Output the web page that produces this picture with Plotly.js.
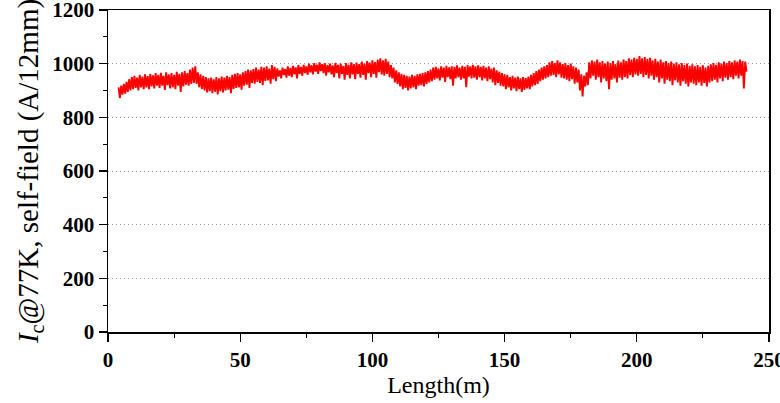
<!DOCTYPE html>
<html>
<head>
<meta charset="utf-8">
<script src="https://cdn.plot.ly/plotly-3.0.1.min.js"></script>
<style>html,body{margin:0;padding:0;background:#fff;}#chart{width:780px;height:403px;}</style>
</head>
<body>
<div id="chart"></div>
<script>
// Sampling of the tape length (m): first point and spacing
const lengthStart = 4;
const lengthStep = 0.5;

// Critical current Ic @77K, self-field (A/12mm)
const icValues = [
  912, 872, 918, 885, 925, 888, 932, 895, 942, 900,
  950, 905, 955, 910, 948, 900, 958, 912, 952, 905,
  960, 912, 954, 905, 962, 915, 956, 908, 965, 918,
  958, 910, 966, 918, 955, 902, 968, 920, 960, 908,
  965, 912, 958, 905, 970, 918, 962, 895, 968, 915,
  972, 922, 965, 918, 978, 925, 985, 928, 990, 925,
  968, 912, 960, 905, 955, 900, 950, 893, 945, 898,
  948, 890, 942, 896, 950, 885, 945, 898, 952, 893,
  948, 900, 955, 903, 950, 890, 958, 906, 962, 910,
  965, 912, 960, 903, 968, 918, 972, 922, 978, 910,
  975, 928, 980, 925, 985, 932, 978, 928, 988, 920,
  985, 936, 990, 938, 982, 925, 995, 942, 988, 935,
  982, 952, 975, 945, 985, 958, 980, 948, 990, 955,
  984, 950, 992, 960, 986, 945, 995, 962, 988, 955,
  996, 965, 990, 958, 1000, 968, 994, 960, 1002, 970,
  996, 962, 1005, 972, 998, 965, 1002, 955, 995, 968,
  1000, 960, 994, 950, 1003, 965, 996, 945, 1000, 962,
  992, 940, 1002, 958, 996, 945, 1005, 960, 998, 942,
  1004, 962, 998, 948, 1008, 958, 1000, 940, 1010, 965,
  1004, 950, 1012, 962, 1006, 948, 1015, 968, 1020, 960,
  1012, 955, 1018, 962, 1008, 950, 995, 945, 985, 930,
  975, 925, 968, 915, 962, 905, 958, 910, 955, 900,
  952, 908, 958, 912, 955, 905, 960, 918, 962, 920,
  965, 915, 968, 925, 972, 930, 978, 935, 985, 940,
  988, 945, 982, 938, 990, 948, 985, 932, 992, 950,
  986, 942, 990, 918, 988, 945, 994, 950, 985, 940,
  992, 945, 988, 912, 995, 952, 990, 945, 996, 948,
  990, 940, 994, 950, 988, 938, 992, 945, 985, 935,
  990, 942, 982, 930, 985, 920, 975, 928, 970, 918,
  965, 915, 960, 905, 958, 912, 950, 900, 955, 908,
  948, 898, 952, 905, 945, 895, 950, 902, 946, 908,
  952, 905, 958, 915, 965, 920, 972, 925, 978, 935,
  985, 940, 990, 945, 995, 950, 1005, 955, 1010, 958,
  1002, 950, 1012, 960, 1005, 948, 998, 945, 1002, 940,
  995, 935, 1000, 942, 990, 925, 985, 930, 978, 900,
  960, 878, 955, 915, 968, 920, 1005, 945, 1012, 955,
  1008, 940, 1015, 950, 1005, 930, 1010, 945, 1000, 935,
  1008, 905, 1002, 940, 1010, 945, 998, 930, 1012, 948,
  1005, 940, 1015, 950, 1010, 945, 1020, 958, 1015, 950,
  1022, 960, 1018, 955, 1028, 962, 1020, 950, 1025, 958,
  1018, 945, 1022, 955, 1012, 940, 1018, 950, 1008, 930,
  1015, 945, 1005, 925, 1010, 940, 1002, 935, 1008, 920,
  1000, 938, 1005, 930, 998, 918, 1002, 935, 995, 925,
  1000, 915, 992, 930, 998, 925, 990, 920, 995, 930,
  988, 918, 994, 928, 985, 915, 992, 930, 998, 935,
  1002, 940, 996, 930, 1005, 945, 1000, 935, 1008, 948,
  1002, 940, 1010, 950, 1005, 942, 1012, 955, 1008, 945,
  1015, 955, 1010, 908, 1008, 970
];

// Axis ticks
const xTickVals = [0, 50, 100, 150, 200, 250];
const yTickVals = [0, 200, 400, 600, 800, 1000, 1200];

const lengthM = icValues.map((_, i) => lengthStart + i * lengthStep);

const serif = "'Liberation Serif', 'Times New Roman', serif";

const trace = {
  x: lengthM,
  y: icValues,
  type: 'scatter',
  mode: 'lines',
  line: {color: '#ff0000', width: 1.9},
  hoverinfo: 'skip'
};

const layout = {
  width: 780,
  height: 403,
  margin: {l: 108, r: 11, t: 10, b: 71},
  paper_bgcolor: '#fff',
  plot_bgcolor: '#fff',
  showlegend: false,
  xaxis: {
    range: [0, 250],
    tickvals: xTickVals,
    ticks: 'outside',
    ticklen: 8,
    tickwidth: 1.3,
    tickcolor: '#000',
    ticklabeloverflow: 'allow',
    minor: {dtick: 25, ticks: 'outside', ticklen: 4, tickwidth: 1, tickcolor: '#000', showgrid: false},
    showline: true,
    linecolor: '#000',
    linewidth: 1.5,
    mirror: true,
    showgrid: false,
    zeroline: false,
    tickfont: {family: serif, size: 21, color: '#000', weight: 'bold'},
    title: {text: 'Length(m)', font: {family: serif, size: 24, color: '#000'}, standoff: 4}
  },
  yaxis: {
    range: [0, 1200],
    tickvals: yTickVals,
    ticks: 'outside',
    ticklen: 8,
    tickwidth: 1.3,
    tickcolor: '#000',
    ticklabeloverflow: 'allow',
    minor: {dtick: 100, ticks: 'outside', ticklen: 4, tickwidth: 1, tickcolor: '#000', showgrid: false},
    showline: true,
    linecolor: '#000',
    linewidth: 1.5,
    mirror: true,
    showgrid: true,
    gridcolor: '#9a9a9a',
    griddash: '1px,3px',
    gridwidth: 1,
    zeroline: false,
    tickfont: {family: serif, size: 21, color: '#000', weight: 'bold'},
    title: {text: '<i>I</i><sub>c</sub>@77K, self-field (A/12mm)', font: {family: serif, size: 29, color: '#000'}, standoff: 5}
  }
};

Plotly.newPlot('chart', [trace], layout, {displayModeBar: false, staticPlot: true});
</script>
</body>
</html>
